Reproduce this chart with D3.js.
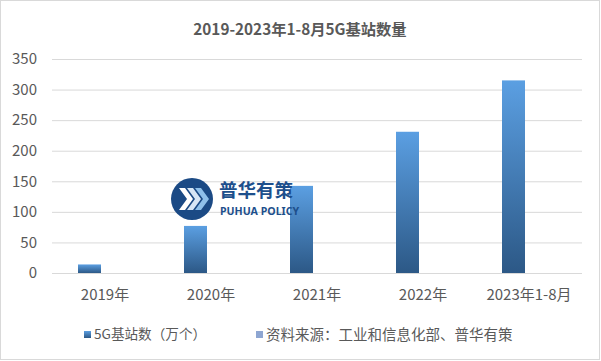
<!DOCTYPE html>
<html><head><meta charset="utf-8">
<script src="https://cdn.jsdelivr.net/npm/d3@7"></script>
<style>
html,body{margin:0;padding:0;background:#fff;}
svg{display:block;font-family:"Noto Sans CJK SC","Microsoft YaHei",sans-serif;}
</style></head>
<body>
<svg id="c" width="601" height="361"></svg>
<script>
const title = "2019-2023年1-8月5G基站数量";
const categories = ["2019年","2020年","2021年","2022年","2023年1-8月"];
const seriesNames = ["5G基站数（万个）","资料来源：工业和信息化部、普华有策"];
const stations = [14, 77, 142.5, 231, 315];
const sourceValues = [null, null, null, null, null];
const yTicks = [0,50,100,150,200,250,300,350];

const svg = d3.select("#c");
const W = 601, H = 361;
const m = {left:52, right:19, top:59, bottom:88};

svg.append("rect").attr("x",0.5).attr("y",0.5).attr("width",W-2).attr("height",H-2)
  .attr("fill","#fff").attr("stroke","#d9d9d9");

const defs = svg.append("defs");
const g1 = defs.append("linearGradient").attr("id","barGrad").attr("x1",0).attr("y1",0).attr("x2",0).attr("y2",1);
g1.append("stop").attr("offset","0%").attr("stop-color","#5b9fe2");
g1.append("stop").attr("offset","100%").attr("stop-color","#2c5886");

const x = d3.scaleBand().domain(categories).range([m.left, W-m.right]).padding(0);
const xs = d3.scaleBand().domain(seriesNames).range([0, x.bandwidth()]).paddingInner(0.258).paddingOuter(0.839);
const y = d3.scaleLinear().domain([0,350]).range([H-m.bottom, m.top]);

// title
svg.append("text").attr("x",300).attr("y",35).attr("text-anchor","middle")
  .attr("font-size",15.3).attr("font-weight","bold").attr("fill","#595959").text(title);

// gridlines + y labels
const yAxis = d3.axisLeft(y).tickValues(yTicks).tickSize(-(W-m.right-m.left)).tickPadding(15);
const ya = svg.append("g").attr("transform",`translate(${m.left},0)`).call(yAxis);
ya.select(".domain").remove();
ya.selectAll(".tick line").attr("stroke","#d9d9d9");
ya.selectAll(".tick text").attr("fill","#595959").attr("font-size",15)
  .attr("font-family","'Noto Sans CJK SC',sans-serif");

// bars
svg.append("g").selectAll("rect").data(stations).join("rect")
  .attr("x",(d,i)=>x(categories[i])+xs(seriesNames[0]))
  .attr("width",xs.bandwidth())
  .attr("y",d=>y(d)).attr("height",d=>y(0)-y(d))
  .attr("fill","url(#barGrad)");
svg.append("g").selectAll("rect").data(sourceValues.filter(v=>v!=null)).join("rect")
  .attr("fill","#8ea6d2");

// x labels
const xAxis = d3.axisBottom(x).tickSize(0).tickPadding(16);
const xa = svg.append("g").attr("transform",`translate(0,${y(0)})`).call(xAxis);
xa.select(".domain").remove();
xa.selectAll(".tick text").attr("fill","#595959").attr("font-size",15)
  .attr("font-family","'Noto Sans CJK SC',sans-serif");

// legend
const leg = [{name:seriesNames[0], fill:"url(#barGrad)", x:84, fs:13.6},{name:seriesNames[1], fill:"#8ea6d2", x:256, fs:14.5}];
const lg = svg.append("g").selectAll("g").data(leg).join("g").attr("transform",d=>`translate(${d.x},331)`);
lg.append("rect").attr("width",7).attr("height",7).attr("fill",d=>d.fill);
lg.append("text").attr("x",10).attr("y",3.5).attr("dy","0.35em").attr("font-size",d=>d.fs)
  .attr("fill","#595959").text(d=>d.name);

// watermark logo
const logo = svg.append("g").attr("transform","translate(192,199)");
logo.append("circle").attr("r",21).attr("fill","#1b4a85");
const chev = (dx,col)=>logo.append("path")
  .attr("d",`M${dx-9},-11 L${dx-3},-11 L${dx+5},0 L${dx-3},11 L${dx-9},11 L${dx-1},0 Z`)
  .attr("fill",col);
chev(-4,"#ffffff"); chev(4,"#d7e6f5"); chev(12,"#8fc0ea");
svg.append("text").attr("x",219).attr("y",197).attr("font-size",18.5).attr("font-weight","bold")
  .attr("fill","#1d4f8c").text("普华有策");
svg.append("text").attr("x",220).attr("y",215).attr("font-size",10.6).attr("font-weight","bold")
  .attr("fill","#1d4f8c").attr("font-family","'Noto Sans',sans-serif").text("PUHUA POLICY");
</script>
</body></html>
